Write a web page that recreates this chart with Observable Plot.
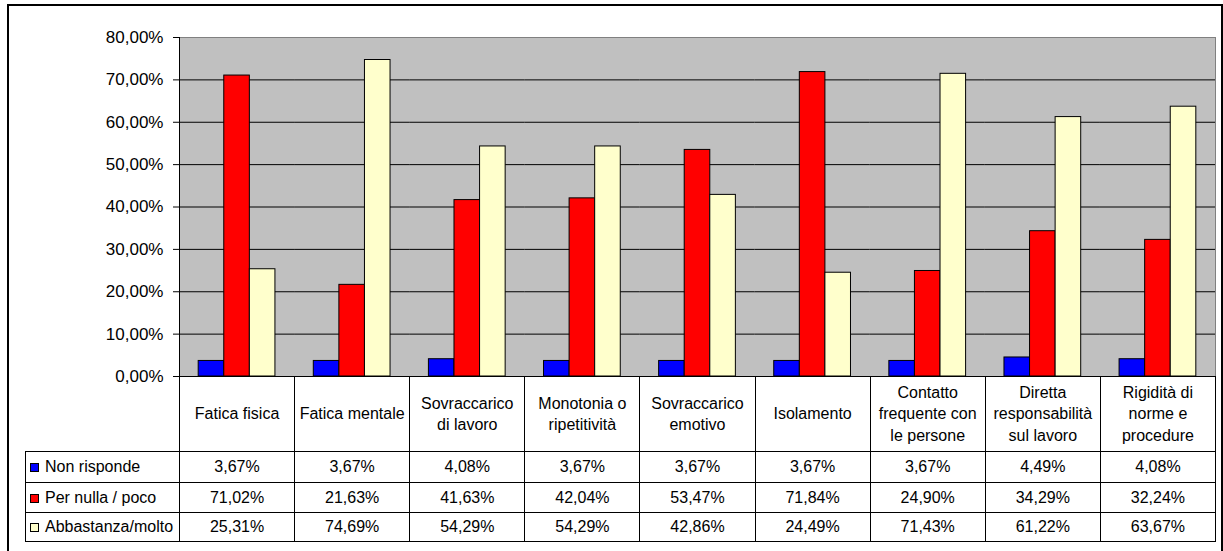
<!DOCTYPE html>
<html>
<head>
<meta charset="utf-8">
<script src="https://cdn.jsdelivr.net/npm/d3@7"></script>
<script src="https://cdn.jsdelivr.net/npm/@observablehq/plot@0.6"></script>
<style>
  html, body { margin: 0; padding: 0; background: #fff; overflow: hidden; }
  body { width: 1223px; height: 551px; position: relative; font-family: "Liberation Sans", Arial, sans-serif; }
  #border { position: absolute; left: 7px; top: 4px; width: 1216px; height: 552px; border: 2px solid #000; box-sizing: border-box; }
  #chart { position: absolute; left: 0; top: 0; }
  #tbl { position: absolute; left: 25px; top: 376px; border-collapse: collapse; table-layout: fixed; font-size: 16px; color: #000; }
  #tbl td { border: 1px solid #000; text-align: center; vertical-align: middle; padding: 0 4px; line-height: 21.5px; }
  #tbl td.lab { text-align: left; padding-left: 4px; white-space: nowrap; }
  #tbl tr.head td.empty { border-top: none; border-left: none; }
  #tbl tr.head td { height: 74px; }
  .sw { display: inline-block; width: 7px; height: 7px; border: 1px solid #000; margin-right: 6px; vertical-align: 0px; }
</style>
</head>
<body>
<div id="border"></div>
<div id="chart"></div>
<table id="tbl"></table>
<script>
const categories = ["Fatica fisica", "Fatica mentale", "Sovraccarico di lavoro", "Monotonia o ripetitività", "Sovraccarico emotivo", "Isolamento", "Contatto frequente con le persone", "Diretta responsabilità sul lavoro", "Rigidità di norme e procedure"];
const series = ["Non risponde", "Per nulla / poco", "Abbastanza/molto"];
const nonRisponde = [3.67, 3.67, 4.08, 3.67, 3.67, 3.67, 3.67, 4.49, 4.08];
const perNullaPoco = [71.02, 21.63, 41.63, 42.04, 53.47, 71.84, 24.90, 34.29, 32.24];
const abbastanzaMolto = [25.31, 74.69, 54.29, 54.29, 42.86, 24.49, 71.43, 61.22, 63.67];
const seriesColors = ["#0000ff", "#ff0000", "#ffffcc"];
const yTicks = [0, 10, 20, 30, 40, 50, 60, 70, 80];

const valuesBySeries = [nonRisponde, perNullaPoco, abbastanzaMolto];
const data = categories.flatMap((c, i) => series.map((s, j) => ({category: c, series: s, value: valuesBySeries[j][i]})));
const fmt = v => v.toFixed(2).replace(".", ",") + "%";

const chart = Plot.plot({
  width: 1223,
  height: 376,
  marginTop: 37,
  marginLeft: 179,
  marginRight: 8,
  marginBottom: 0,
  style: {fontFamily: "'Liberation Sans', Arial, sans-serif", fontSize: "17px", color: "#000", background: "none", overflow: "visible"},
  fx: {domain: categories, padding: 0, axis: null, round: false},
  x: {domain: series, paddingInner: 0, paddingOuter: 0.75, axis: null, round: false},
  y: {domain: [0, 80], axis: null},
  color: {domain: series, range: seriesColors},
  marks: [
    Plot.frame({facet: "super", fill: "#c0c0c0", stroke: "#808080"}),
    Plot.gridY(yTicks.filter(t => t > 0 && t < 80), {stroke: "#000", strokeOpacity: 1}),
    Plot.barY(data, {fx: "category", x: "series", y: "value", fill: "series", stroke: "#000", strokeWidth: 1, inset: 0}),
    Plot.axisY(yTicks, {tickSize: 6, tickPadding: 10, tickFormat: fmt, label: null, fontSize: 17}),
    Plot.frame({facet: "super", anchor: "left", stroke: "#000"}),
    Plot.frame({facet: "super", anchor: "bottom", stroke: "#000"})
  ]
});
document.getElementById("chart").appendChild(chart);

// data table below the chart, columns aligned with the fx scale
const fx = chart.scale("fx");
const colW = fx.bandwidth;
const labelW = fx.range[0] - 25;
const tbl = document.getElementById("tbl");
const colgroup = document.createElement("colgroup");
colgroup.innerHTML = `<col style="width:${labelW}px">` + categories.map(() => `<col style="width:${colW}px">`).join("");
tbl.appendChild(colgroup);
const head = document.createElement("tr");
head.className = "head";
head.innerHTML = `<td class="empty"></td>` + categories.map(c => `<td>${c}</td>`).join("");
tbl.appendChild(head);
const rowH = [30, 29, 28];
series.forEach((s, j) => {
  const tr = document.createElement("tr");
  tr.innerHTML = `<td class="lab" style="height:${rowH[j]}px"><span class="sw" style="background:${seriesColors[j]}"></span>${s}</td>` +
    valuesBySeries[j].map(v => `<td>${fmt(v)}</td>`).join("");
  tbl.appendChild(tr);
});
</script>
</body>
</html>
